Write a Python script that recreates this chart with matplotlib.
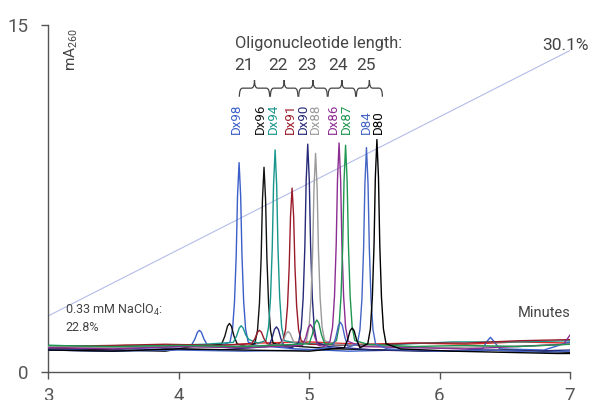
import numpy as np
import matplotlib.pyplot as plt
from matplotlib.path import Path
from matplotlib.patches import PathPatch

plt.rcParams['font.family'] = ['Roboto', 'DejaVu Sans']

# chromatogram traces (minutes, mA260)
names = ["Dx98", "Dx96", "Dx94", "Dx91", "Dx90", "Dx88", "Dx86", "Dx87", "D84", "D80"]
colors = ["#3a5fc8", "#111111", "#18968c", "#9b1b2a", "#262a78",
          "#9a9a9a", "#8c2d91", "#1e9650", "#4565c4", "#000000"]

t_dx98 = [3.0, 3.4, 3.8, 4.05, 4.10, 4.125, 4.145, 4.16, 4.175, 4.195, 4.22, 4.3,
          4.394, 4.414, 4.429, 4.442, 4.452, 4.464, 4.476, 4.486, 4.499, 4.514, 4.534,
          4.6, 4.9, 5.3, 5.7, 6.1, 6.33, 6.36, 6.39, 6.42, 6.46, 6.8, 7.0]
v_dx98 = [1.0, 0.95, 1.05, 1.1, 1.17, 1.42, 1.72, 1.8, 1.72, 1.42, 1.17, 1.1,
          1.29, 1.85, 3.05, 5.05, 7.61, 9.05, 7.61, 5.05, 3.05, 1.85, 1.29,
          1.15, 1.0, 0.9, 0.95, 0.9, 1.0, 1.3, 1.5, 1.3, 1.0, 0.95, 1.3]

t_dx96 = [3.0, 3.5, 3.9, 4.1, 4.33, 4.355, 4.375, 4.39, 4.405, 4.425, 4.45, 4.53,
          4.585, 4.605, 4.62, 4.633, 4.643, 4.655, 4.667, 4.677, 4.69, 4.705, 4.725,
          4.8, 5.2, 5.6, 6.0, 6.5, 7.0]
v_dx96 = [1.05, 0.95, 0.9, 1.1, 1.2, 1.55, 1.98, 2.1, 1.98, 1.55, 1.2, 1.1,
          1.24, 1.79, 2.96, 4.93, 7.44, 8.85, 7.44, 4.93, 2.96, 1.79, 1.24,
          1.15, 1.0, 0.95, 0.9, 0.95, 0.85]

t_dx94 = [3.0, 3.5, 3.9, 4.2, 4.42, 4.445, 4.465, 4.48, 4.495, 4.515, 4.54, 4.61,
          4.67, 4.69, 4.705, 4.718, 4.728, 4.74, 4.752, 4.762, 4.775, 4.79, 4.81,
          4.9, 5.3, 5.7, 6.1, 6.6, 7.0]
v_dx94 = [1.15, 1.1, 1.15, 1.2, 1.28, 1.56, 1.9, 2.0, 1.9, 1.6, 1.4, 1.25,
          1.36, 1.95, 3.23, 5.35, 8.07, 9.6, 8.07, 5.35, 3.23, 1.95, 1.36,
          1.25, 1.15, 1.2, 1.3, 1.3, 1.35]

t_dx91 = [3.0, 3.5, 3.9, 4.3, 4.56, 4.585, 4.605, 4.62, 4.635, 4.655, 4.68, 4.75,
          4.80, 4.82, 4.835, 4.848, 4.858, 4.87, 4.882, 4.892, 4.905, 4.92, 4.94,
          5.0, 5.4, 5.8, 6.2, 6.6, 7.0]
v_dx91 = [1.1, 1.15, 1.2, 1.15, 1.22, 1.44, 1.72, 1.8, 1.72, 1.44, 1.22, 1.15,
          1.35, 1.83, 2.85, 4.55, 6.73, 7.95, 6.73, 4.55, 2.85, 1.83, 1.35,
          1.2, 1.15, 1.25, 1.25, 1.35, 1.4]

t_dx90 = [3.0, 3.5, 3.9, 4.3, 4.69, 4.715, 4.735, 4.75, 4.765, 4.785, 4.81, 4.87,
          4.92, 4.94, 4.955, 4.968, 4.978, 4.99, 5.002, 5.012, 5.025, 5.04, 5.06,
          5.15, 5.5, 5.9, 6.3, 6.7, 7.0]
v_dx90 = [0.95, 0.9, 1.0, 0.95, 1.1, 1.43, 1.84, 1.95, 1.84, 1.43, 1.1, 1.05,
          1.27, 1.89, 3.21, 5.43, 8.26, 9.85, 8.26, 5.43, 3.21, 1.89, 1.27,
          1.1, 0.95, 0.9, 0.95, 0.9, 0.95]

t_dx88 = [3.0, 3.5, 4.0, 4.4, 4.78, 4.805, 4.825, 4.84, 4.855, 4.875, 4.90, 4.94,
          4.98, 5.0, 5.015, 5.028, 5.038, 5.05, 5.062, 5.072, 5.085, 5.1, 5.12,
          5.2, 5.6, 6.0, 6.4, 6.8, 7.0]
v_dx88 = [1.1, 1.05, 1.1, 1.1, 1.17, 1.39, 1.67, 1.75, 1.67, 1.39, 1.17, 1.15,
          1.35, 1.94, 3.19, 5.28, 7.95, 9.45, 7.95, 5.28, 3.19, 1.94, 1.35,
          1.2, 1.1, 1.05, 1.1, 1.15, 1.2]

t_dx86 = [3.0, 3.5, 4.0, 4.5, 4.95, 4.975, 4.995, 5.01, 5.025, 5.045, 5.07, 5.12,
          5.16, 5.18, 5.195, 5.208, 5.218, 5.23, 5.242, 5.252, 5.265, 5.28, 5.30,
          5.4, 5.8, 6.2, 6.6, 6.95, 7.0]
v_dx86 = [1.05, 1.0, 1.1, 1.05, 1.15, 1.5, 1.93, 2.05, 1.93, 1.5, 1.15, 1.1,
          1.32, 1.94, 3.26, 5.48, 8.31, 9.9, 8.31, 5.48, 3.26, 1.94, 1.32,
          1.1, 1.05, 1.0, 1.1, 1.2, 1.6]

t_dx87 = [3.0, 3.5, 4.0, 4.5, 5.0, 5.025, 5.045, 5.06, 5.075, 5.095, 5.12, 5.17,
          5.21, 5.23, 5.245, 5.258, 5.268, 5.28, 5.292, 5.302, 5.315, 5.33, 5.35,
          5.45, 5.8, 6.2, 6.6, 7.0]
v_dx87 = [1.15, 1.1, 1.15, 1.1, 1.22, 1.62, 2.11, 2.25, 2.11, 1.62, 1.22, 1.2,
          1.36, 1.97, 3.28, 5.45, 8.23, 9.8, 8.23, 5.45, 3.28, 1.97, 1.36,
          1.2, 1.1, 1.15, 1.1, 1.2]

t_d84 = [3.0, 3.5, 4.0, 4.5, 5.0, 5.18, 5.205, 5.225, 5.24, 5.255, 5.275, 5.30,
         5.37, 5.39, 5.405, 5.418, 5.428, 5.44, 5.452, 5.462, 5.475, 5.49, 5.51,
         5.6, 6.0, 6.4, 6.8, 7.0]
v_d84 = [0.95, 0.9, 0.95, 0.9, 0.95, 1.07, 1.49, 2.01, 2.15, 2.01, 1.49, 1.07,
         1.21, 1.83, 3.14, 5.33, 8.13, 9.7, 8.13, 5.33, 3.14, 1.83, 1.21,
         1.0, 0.9, 0.95, 0.85, 0.9]

t_d80 = [3.0, 3.5, 4.0, 4.5, 5.0, 5.27, 5.295, 5.315, 5.33, 5.345, 5.365, 5.39,
         5.45, 5.47, 5.485, 5.498, 5.508, 5.52, 5.532, 5.542, 5.555, 5.57, 5.59,
         5.7, 6.1, 6.5, 6.9, 7.0]
v_d80 = [0.95, 0.9, 1.0, 0.95, 0.9, 1.05, 1.38, 1.79, 1.9, 1.79, 1.38, 1.05,
         1.22, 1.86, 3.23, 5.5, 8.41, 10.05, 8.41, 5.5, 3.23, 1.86, 1.22,
         1.0, 0.9, 0.85, 0.8, 0.8]

# extra blank run near the baseline
t_blank = [3.0, 3.6, 4.2, 4.6, 5.0, 5.4, 5.8, 6.2, 6.6, 7.0]
v_blank = [1.05, 1.15, 1.1, 1.25, 1.3, 1.2, 1.25, 1.2, 1.3, 1.25]

times = [t_dx98, t_dx96, t_dx94, t_dx91, t_dx90, t_dx88, t_dx86, t_dx87, t_d84, t_d80]
values = [v_dx98, v_dx96, v_dx94, v_dx91, v_dx90, v_dx88, v_dx86, v_dx87, v_d84, v_d80]

# label positions (minutes) above peaks
label_x = [4.44, 4.625, 4.73, 4.854, 4.956, 5.046, 5.184, 5.289, 5.442, 5.531]

# oligonucleotide length groups
lengths = ["21", "22", "23", "24", "25"]
length_x = [4.502, 4.762, 4.984, 5.222, 5.437]
brace_edges = [4.463, 4.701, 4.918, 5.143, 5.36, 5.565]

# NaClO4 gradient
grad_t = [3.0, 7.0]
grad_v = [2.42, 13.9]

fig = plt.figure(figsize=(5.9, 4.0), dpi=100)
ax = fig.add_axes([0.0814, 0.07, 0.8848, 0.8675])

ax.plot(grad_t, grad_v, color="#b4bce8", lw=0.8, zorder=1)

ax.plot(t_blank, v_blank, color="#e0282a", lw=1.0, zorder=2)
for t, v, c in zip(times, values, colors):
    ax.plot(t, v, color=c, lw=1.0, zorder=3)

for name, x, c in zip(names, label_x, colors):
    ax.text(x, 10.3, name, rotation=90, ha="center", va="bottom", color=c, fontsize=9.5)

txt = "#444444"
ax.text(4.433, 14.18, "Oligonucleotide length:", ha="left", va="center", color=txt, fontsize=11.8)
for s, x in zip(lengths, length_x):
    ax.text(x, 13.25, s, ha="center", va="center", color=txt, fontsize=12.5)

y_end, y_line, y_tip, d = 11.9, 12.27, 12.62, 0.025
for x0, x1 in zip(brace_edges[:-1], brace_edges[1:]):
    x0 += 0.003
    x1 -= 0.003
    xm = (x0 + x1) / 2
    verts = [(x0, y_end), (x0, y_line), (x0 + d, y_line),
             (xm - d, y_line), (xm, y_line), (xm, y_tip),
             (xm, y_line), (xm + d, y_line),
             (x1 - d, y_line), (x1, y_line), (x1, y_end)]
    codes = [Path.MOVETO, Path.CURVE3, Path.CURVE3,
             Path.LINETO, Path.CURVE3, Path.CURVE3,
             Path.CURVE3, Path.CURVE3,
             Path.LINETO, Path.CURVE3, Path.CURVE3]
    ax.add_patch(PathPatch(Path(verts, codes), fill=False, ec=txt, lw=0.9))

ax.text(7.14, 14.1, "30.1%", ha="right", va="center", color=txt, fontsize=12.5, clip_on=False)
ax.text(3.13, 2.35, "0.33 mM NaClO$\\mathregular{_4}$:\n22.8%", ha="left", va="center",
        color=txt, fontsize=9, linespacing=1.3)
ax.text(7.0, 2.55, "Minutes", ha="right", va="center", color=txt, fontsize=10.5)
ax.text(0.044, 0.99, "$\\mathregular{mA_{260}}$", transform=ax.transAxes, rotation=90,
        ha="center", va="top", color=txt, fontsize=11)

ax.set_xlim(3, 7)
ax.set_ylim(0, 15)
ax.set_xticks([3, 4, 5, 6, 7])
ax.set_yticks([0, 15])
for side in ["top", "right"]:
    ax.spines[side].set_visible(False)
for side in ["left", "bottom"]:
    ax.spines[side].set_color("#555555")
    ax.spines[side].set_linewidth(1.0)
ax.tick_params(colors="#555555", labelcolor="#555555", labelsize=13.5, length=5, width=1.0)
ax.tick_params(axis="x", pad=6)
ax.tick_params(axis="y", pad=9)

fig.savefig("out.png", dpi=100)
